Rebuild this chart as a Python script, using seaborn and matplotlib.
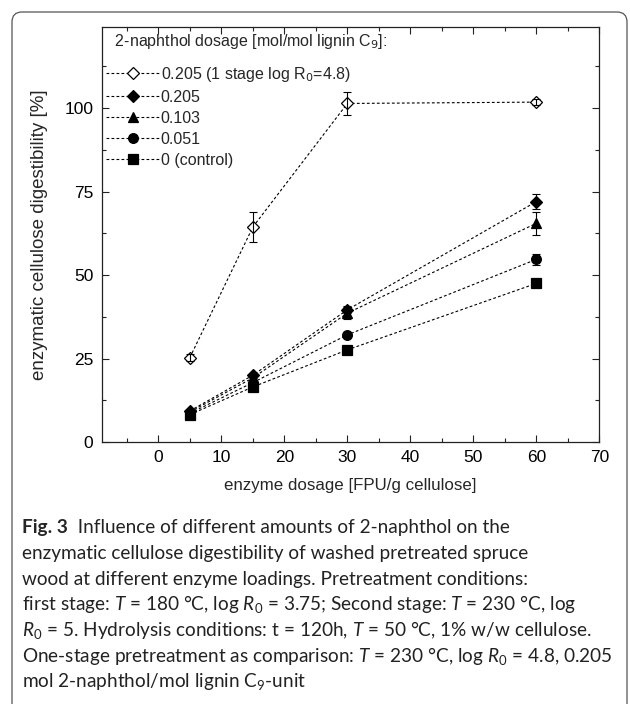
import numpy as np
import pandas as pd
import seaborn as sns
import matplotlib
matplotlib.use('Agg')
from matplotlib import pyplot as plt
from matplotlib.patches import FancyBboxPatch
from matplotlib.transforms import IdentityTransform
from matplotlib.ticker import MultipleLocator

# enzyme loadings [FPU/g cellulose]
enzyme = [5, 15, 30, 60]

# digestibility [%] and error bars per 2-naphthol dosage
one_stage = [25.3, 64.4, 101.4, 101.8]
one_stage_err = [1.0, 4.6, 3.4, 0.9]
d0205 = [9.3, 20.0, 39.6, 72.0]
d0205_err = [0.5, 0.8, 1.0, 2.3]
d0103 = [9.0, 19.2, 38.6, 65.5]
d0103_err = [0.5, 0.8, 1.8, 3.4]
d0051 = [8.6, 17.8, 32.1, 54.7]
d0051_err = [0.4, 0.5, 0.8, 1.6]
d0 = [8.2, 16.5, 27.6, 47.5]
d0_err = [0.3, 0.5, 0.5, 0.5]

labels = ['0.205 (1 stage log R$_0$=4.8)', '0.205', '0.103', '0.051', '0 (control)']
markers = ['D', 'D', '^', 'o', 's']

series = [one_stage, d0205, d0103, d0051, d0]
errors = [one_stage_err, d0205_err, d0103_err, d0051_err, d0_err]

sns.set_style('ticks')
plt.rcParams['font.family'] = ['Liberation Sans', 'DejaVu Sans']
plt.rcParams['mathtext.fontset'] = 'custom'
plt.rcParams['mathtext.rm'] = 'Lato'
plt.rcParams['mathtext.it'] = 'Lato:italic'

fig = plt.figure(figsize=(6.3, 7.04), dpi=100)
ax = fig.add_axes([101.7 / 630, 1 - 442 / 704, (599.3 - 101.7) / 630, (442 - 27) / 704])

for i, (vals, errs) in enumerate(zip(series, errors)):
    df = pd.DataFrame({'enzyme': enzyme, 'dig': vals})
    face = 'white' if i == 0 else 'black'
    sns.lineplot(data=df, x='enzyme', y='dig', ax=ax,
                 color='black', linewidth=0.8, linestyle=(0, (2.5, 2)),
                 marker=markers[i], markersize=7 if markers[i] != 'D' else 6.5,
                 markerfacecolor=face, markeredgecolor='black',
                 markeredgewidth=0.9, label=labels[i])
    ax.errorbar(enzyme, vals, yerr=errs, fmt='none', ecolor='black',
                elinewidth=0.8, capsize=2.7, capthick=0.8)

ax.set_xlim(-9, 70)
ax.set_ylim(0, 124.3)
ax.xaxis.set_major_locator(MultipleLocator(10))
ax.xaxis.set_minor_locator(MultipleLocator(5))
ax.yaxis.set_major_locator(MultipleLocator(25))
ax.yaxis.set_minor_locator(MultipleLocator(12.5))
ax.tick_params(which='both', direction='in', top=True, right=True,
               labeltop=False, labelright=False, width=0.8, colors='#222222',
               labelcolor='black')
ax.tick_params(which='major', length=5, labelsize=12.5, pad=6)
ax.tick_params(which='minor', length=3)
for s in ax.spines.values():
    s.set_linewidth(0.9)
    s.set_color('#222222')

ax.set_xlabel('enzyme dosage [FPU/g cellulose]', fontsize=12.2, labelpad=9)
ax.set_ylabel('enzymatic cellulose digestibility [%]', fontsize=13.5, labelpad=12)

leg = ax.legend(title='  2-naphthol dosage [mol/mol lignin C$_9$]:', loc='upper left',
                frameon=False, fontsize=11.5, title_fontsize=11.5,
                handlelength=3.3, handletextpad=0.1, labelspacing=0.38,
                borderaxespad=0.0, borderpad=0.3, alignment='left')
leg._legend_box.sep = 10
for t in leg.get_texts():
    t.set_math_fontfamily('dejavusans')
leg.get_title().set_math_fontfamily('dejavusans')

# outer rounded frame
frame = FancyBboxPatch((12, -20), 615, 712, boxstyle='round,pad=0,rounding_size=10',
                       transform=IdentityTransform(), fill=False,
                       edgecolor='#555555', linewidth=0.9)
fig.add_artist(frame)

# caption
cap_font = 'Lato'
cap_size = 13.7
x0 = 22 / 630
line_y = [527, 553, 579, 604, 630, 656, 682]
fig_t = fig.text(x0, 1 - line_y[0] / 704, 'Fig. 3', fontsize=cap_size, fontweight='bold',
                 family=cap_font, va='center', ha='left')
ax.annotate('  Influence of different amounts of 2-naphthol on the',
            xy=(1, 0), xycoords=fig_t, va='bottom', ha='left', color='#222222',
            fontsize=cap_size, family=cap_font, annotation_clip=False)

caption_lines = [
    'enzymatic cellulose digestibility of washed pretreated spruce',
    'wood at different enzyme loadings. Pretreatment conditions:',
    'first stage: $T$ = 180 °C, log $R$$_0$ = 3.75; Second stage: $T$ = 230 °C, log',
    '$R$$_0$ = 5. Hydrolysis conditions: t = 120h, $T$ = 50 °C, 1% w/w cellulose.',
    'One-stage pretreatment as comparison: $T$ = 230 °C, log $R$$_0$ = 4.8, 0.205',
    'mol 2-naphthol/mol lignin C$_9$-unit',
]
for ly, txt in zip(line_y[1:], caption_lines):
    fig.text(x0, 1 - ly / 704, txt, fontsize=cap_size, family=cap_font,
             va='center', ha='left', color='#222222')

plt.savefig('out.png', dpi=100)
